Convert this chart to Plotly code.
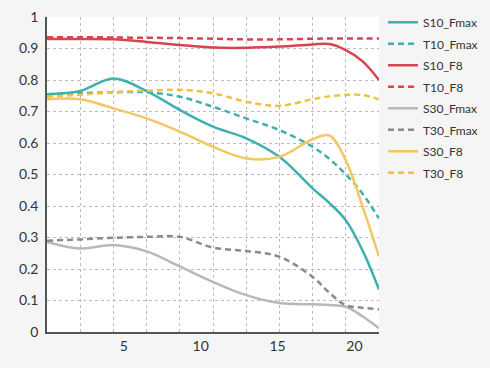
import plotly.graph_objects as go

x_pos = [0, 2.16, 4.32, 6.48, 8.64, 10.8, 12.96, 15.12, 17.28, 18.36, 19.44, 20.52, 21.6]

S10_Fmax = [0.755, 0.765, 0.805, 0.765, 0.705, 0.652, 0.615, 0.556, 0.456, 0.41, 0.355, 0.26, 0.135]
T10_Fmax = [0.755, 0.758, 0.761, 0.761, 0.747, 0.715, 0.678, 0.641, 0.588, 0.55, 0.50, 0.44, 0.36]
S10_F8 = [0.930, 0.930, 0.929, 0.921, 0.911, 0.903, 0.902, 0.906, 0.913, 0.914, 0.895, 0.86, 0.80]
T10_F8 = [0.936, 0.936, 0.935, 0.934, 0.933, 0.931, 0.929, 0.929, 0.931, 0.932, 0.932, 0.932, 0.932]
S30_Fmax = [0.286, 0.265, 0.276, 0.256, 0.208, 0.159, 0.117, 0.092, 0.088, 0.086, 0.08, 0.05, 0.012]
T30_Fmax = [0.290, 0.294, 0.299, 0.302, 0.302, 0.268, 0.257, 0.239, 0.175, 0.125, 0.085, 0.077, 0.072]
S30_F8 = [0.739, 0.739, 0.710, 0.678, 0.636, 0.588, 0.551, 0.556, 0.612, 0.624, 0.545, 0.40, 0.24]
T30_F8 = [0.747, 0.753, 0.761, 0.766, 0.769, 0.758, 0.731, 0.718, 0.739, 0.748, 0.753, 0.752, 0.739]

x_ticks = [5, 10, 15, 20]
y_ticks = [0, 0.1, 0.2, 0.3, 0.4, 0.5, 0.6, 0.7, 0.8, 0.9, 1]
y_labels = ["0", "0.1", "0.2", "0.3", "0.4", "0.5", "0.6", "0.7", "0.8", "0.9", "1"]

series = [
    ("S10_Fmax", S10_Fmax, "#3fb0ad", "solid"),
    ("T10_Fmax", T10_Fmax, "#3fb0ad", "dash"),
    ("S10_F8", S10_F8, "#d7444e", "solid"),
    ("T10_F8", T10_F8, "#d7444e", "dash"),
    ("S30_Fmax", S30_Fmax, "#b8b8b8", "solid"),
    ("T30_Fmax", T30_Fmax, "#8a8a8a", "dash"),
    ("S30_F8", S30_F8, "#f5c665", "solid"),
    ("T30_F8", T30_F8, "#f0c040", "dash"),
]

fig = go.Figure()
for name, vals, color, dash in series:
    fig.add_trace(go.Scatter(
        x=x_pos, y=vals, name=name, mode="lines", legendgroup=name,
        line=dict(color=color, width=2.5, dash="6px,4px" if dash == "dash" else "solid",
                  shape="spline", smoothing=1.0),
    ))

fig.update_layout(
    width=490, height=368,
    margin=dict(l=47, r=111, t=17, b=36, autoexpand=False),
    paper_bgcolor="#f5f5f5",
    plot_bgcolor="#ffffff",
    font=dict(family="Lato, sans-serif", color="#333333", size=13),
    showlegend=True,
    legend=dict(x=1.012, xanchor="left", y=1.029, yanchor="top",
                font=dict(size=12, color="#333333"), itemwidth=30,
                bgcolor="rgba(0,0,0,0)", tracegroupgap=2.5),
    xaxis=dict(range=[0, 21.6], tickmode="array", tickvals=x_ticks,
               showgrid=False, zeroline=False, showline=True, linecolor="#555555", linewidth=1.5,
               ticks="", tickfont=dict(size=14),
               minor=dict(tick0=0, dtick=2.16, showgrid=True, gridcolor="#bbbbbb",
                          griddash="3px,3px", gridwidth=1, ticks="")),
    yaxis=dict(range=[0, 1.0], tickmode="array", tickvals=y_ticks, ticktext=y_labels,
               showgrid=True, gridcolor="#bbbbbb", griddash="3px,3px", gridwidth=1,
               zeroline=False, showline=True, linecolor="#555555", linewidth=1.5,
               ticks="", tickfont=dict(size=14), ticklabelstandoff=4),
)

fig.write_html("out.html", config={"displayModeBar": False},
               post_script="document.body.style.margin='0';")
